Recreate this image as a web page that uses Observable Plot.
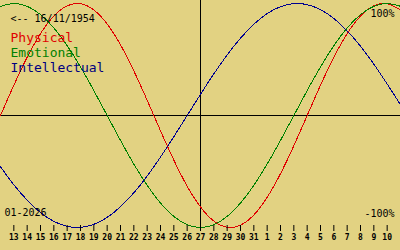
<!DOCTYPE html>
<html>
<head>
<meta charset="utf-8">
<script src="https://cdn.jsdelivr.net/npm/d3@7"></script>
<script src="https://cdn.jsdelivr.net/npm/@observablehq/plot@0.6"></script>
<style>
  html, body { margin: 0; padding: 0; background: #e2d282; }
</style>
</head>
<body>
<div id="chart"></div>
<script>
// Days shown (one sample per day)
const days = [
  "2026-01-12","2026-01-13","2026-01-14","2026-01-15","2026-01-16","2026-01-17","2026-01-18",
  "2026-01-19","2026-01-20","2026-01-21","2026-01-22","2026-01-23","2026-01-24","2026-01-25",
  "2026-01-26","2026-01-27","2026-01-28","2026-01-29","2026-01-30","2026-01-31","2026-02-01",
  "2026-02-02","2026-02-03","2026-02-04","2026-02-05","2026-02-06","2026-02-07","2026-02-08",
  "2026-02-09","2026-02-10","2026-02-11"
];
// Series values (-1 .. 1) read for each day
const physical = [
  0, 0.2698, 0.5196, 0.7308, 0.8879, 0.9791, 0.9977, 0.9423, 0.8170, 0.6311, 0.3984,
  0.1362, -0.1362, -0.3984, -0.6311, -0.8170, -0.9423, -0.9977, -0.9791, -0.8879, -0.7308,
  -0.5196, -0.2698, 0, 0.2698, 0.5196, 0.7308, 0.8879, 0.9791, 0.9977, 0.9423
];
const emotional = [
  0.9749, 1, 0.9749, 0.9010, 0.7818, 0.6235, 0.4339, 0.2225, 0, -0.2225, -0.4339,
  -0.6235, -0.7818, -0.9010, -0.9749, -1, -0.9749, -0.9010, -0.7818, -0.6235, -0.4339,
  -0.2225, 0, 0.2225, 0.4339, 0.6235, 0.7818, 0.9010, 0.9749, 1, 0.9749
];
const intellectual = [
  -0.4582, -0.6182, -0.7557, -0.8660, -0.9450, -0.9898, -0.9989, -0.9718, -0.9096, -0.8146, -0.6901,
  -0.5406, -0.3717, -0.1893, 0, 0.1893, 0.3717, 0.5406, 0.6901, 0.8146, 0.9096,
  0.9718, 0.9989, 0.9898, 0.9450, 0.8660, 0.7557, 0.6182, 0.4582, 0.2817, 0.0951
];
// Tick dates and labels
const tickDays = days.slice(1, 30);
const tickLabels = [13,14,15,16,17,18,19,20,21,22,23,24,25,26,27,28,29,30,31,1,2,3,4,5,6,7,8,9,10];
const today = "2026-01-27";
const birthLabel = "<-- 16/11/1954";
const monthLabel = "01-2026";
const legendNames = ["Physical", "Emotional", "Intellectual"];
const colors = ["#e00000", "#008000", "#000090"];

const parse = s => new Date(s + "T00:00:00Z");
const series = [physical, emotional, intellectual];
const rows = series.flatMap((vals, i) => vals.map((v, j) => ({date: parse(days[j]), value: v, name: legendNames[i]})));
const tickDates = tickDays.map(parse);

const chart = Plot.plot({
  width: 400,
  height: 250,
  marginTop: 0,
  marginLeft: 0,
  marginRight: 0,
  marginBottom: 25,
  style: {background: "#e2d282", fontFamily: "'DejaVu Sans Mono', monospace", color: "black"},
  x: {type: "utc", domain: [parse(days[0]), parse(days[days.length - 1])], range: [0, 400]},
  y: {domain: [-1, 1], range: [227, 3], axis: null},
  color: {domain: legendNames, range: colors},
  marks: [
    Plot.ruleY([0], {stroke: "black", strokeWidth: 1}),
    Plot.ruleX([parse(today)], {stroke: "black", strokeWidth: 1}),
    Plot.line(rows, {x: "date", y: "value", z: "name", stroke: "name", strokeWidth: 1, curve: "natural", shapeRendering: "crispEdges"}),
    Plot.axisX(tickDates, {
      anchor: "bottom",
      tickSize: 6,
      tickPadding: 3,
      fontSize: 8,
      fontWeight: "bold",
      tickFormat: d => tickLabels[tickDates.findIndex(t => +t === +d)]
    }),
    Plot.text([birthLabel], {frameAnchor: "top-left", textAnchor: "start", lineAnchor: "top", dx: 10, dy: 14, fontSize: 10, fill: "black"}),
    Plot.text([legendNames[0]], {frameAnchor: "top-left", textAnchor: "start", lineAnchor: "top", dx: 10, dy: 32, fontSize: 13, fill: colors[0]}),
    Plot.text([legendNames[1]], {frameAnchor: "top-left", textAnchor: "start", lineAnchor: "top", dx: 10, dy: 47, fontSize: 13, fill: colors[1]}),
    Plot.text([legendNames[2]], {frameAnchor: "top-left", textAnchor: "start", lineAnchor: "top", dx: 10, dy: 62, fontSize: 13, fill: "#000080"}),
    Plot.text(["100%"], {frameAnchor: "top-right", textAnchor: "end", lineAnchor: "top", dx: -6, dy: 9, fontSize: 10, fill: "black"}),
    Plot.text(["-100%"], {frameAnchor: "top-right", textAnchor: "end", lineAnchor: "top", dx: -6, dy: 209, fontSize: 10, fill: "black"}),
    Plot.text([monthLabel], {frameAnchor: "top-left", textAnchor: "start", lineAnchor: "top", dx: 4, dy: 208, fontSize: 10, fill: "black"})
  ]
});
document.getElementById("chart").appendChild(chart);
</script>
</body>
</html>
